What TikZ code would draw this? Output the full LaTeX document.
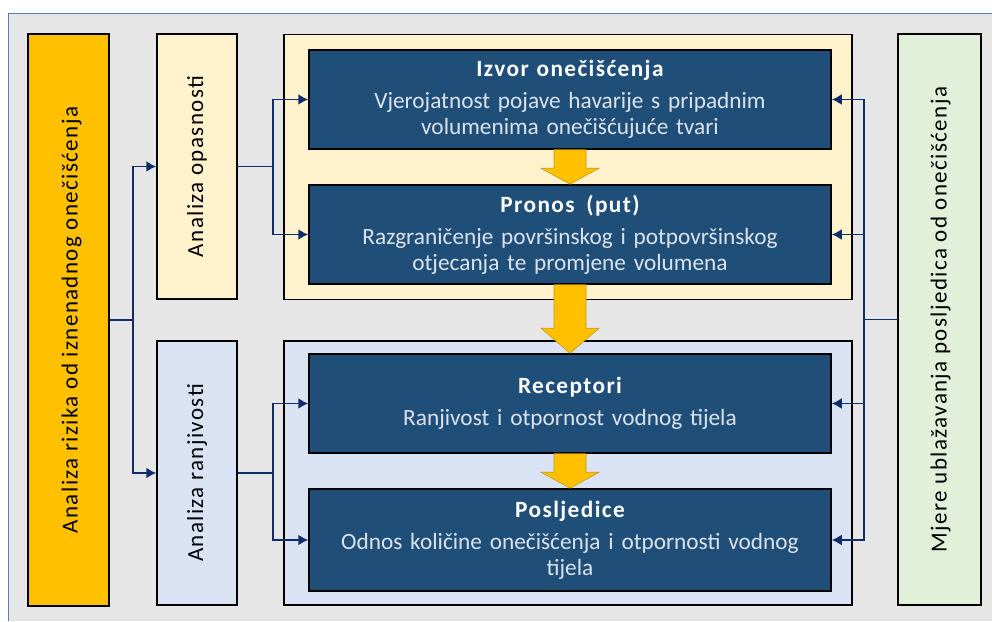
\documentclass[tikz,border=0pt]{standalone}
\usepackage{fontspec}
\setmainfont{Carlito}
\newfontfamily\razmak{Carlito}[LetterSpace=6]
\usetikzlibrary{arrows.meta,calc}
\definecolor{pozadina}{HTML}{E6E6E6}
\definecolor{okvir}{HTML}{5B7DB1}
\definecolor{narancasta}{HTML}{FFC000}
\definecolor{krem}{HTML}{FFF2CC}
\definecolor{svijetloplava}{HTML}{DAE3F3}
\definecolor{zelena}{HTML}{E2F0D9}
\definecolor{tamnoplava}{HTML}{1F4E79}
\definecolor{veza}{HTML}{0F2D6B}
\definecolor{tekst}{HTML}{DCE3EC}
\definecolor{zlatna}{HTML}{FFC000}
\definecolor{zlatnorub}{HTML}{C99A10}
\newcommand{\dolje}[3]{%
  \filldraw[strelica] ($(#1.south)+(-16,0)$) -- ($(#2.north)+(-16,-#3)$)
    -- ($(#2.north)+(-29,-#3)$) -- (#2.north) -- ($(#2.north)+(29,-#3)$)
    -- ($(#2.north)+(16,-#3)$) -- ($(#1.south)+(16,0)$) -- cycle;}
\newcommand{\naslov}[1]{{\razmak\bfseries #1}\\[6pt]}

\begin{document}
\begin{tikzpicture}[
		x=1pt, y=-1pt,
		font=\fontsize{23.3}{26}\selectfont,
		stup/.style={draw=black,line width=1.5pt,inner sep=0pt},
		okvirbox/.style={draw=black,line width=1.5pt,minimum width=568pt,inner sep=0pt},
		kutija/.style={draw=black,fill=tamnoplava,line width=1.5pt,minimum width=522pt,
		text width=516pt,align=center,text=white,inner sep=0pt},
		natpis/.style={rotate=90,inner sep=0pt,font=\razmak\fontsize{23}{26}\selectfont},
		link/.style={draw=veza,line width=1.8pt},
		strelica/.style={fill=zlatna,draw=zlatnorub,line width=0.6pt},
		>={Latex[length=10pt,width=11pt]}
		]
		\useasboundingbox (0,0) rectangle (992,621);
		\fill[pozadina] (8,13) rectangle (992,621);
		\draw[okvir, line width=1pt] (8,621) -- (8,13) -- (992,13);
		% lijevo i desno
		\node[stup, fill=narancasta, minimum width=81pt, minimum height=572pt] (rizik) at (68.5,320) {};
		\node[natpis] (rizikt) at ([xshift=3pt]rizik.center) {Analiza rizika od iznenadnog onečišćenja};
		\node[stup, fill=zelena, minimum width=83pt, minimum height=571pt] (mjere) at (939.5,319.5) {};
		\node[natpis] (mjeret) at ([xshift=1pt]mjere.center) {Mjere ublažavanja posljedica od onečišćenja};
		% analize
		\node[stup, fill=krem, minimum width=80pt, minimum height=265pt] (opas) at (197,166.5) {};
		\node[natpis] (opast) at (opas.center) {Analiza opasnosti};
		\node[stup, fill=svijetloplava, minimum width=80pt, minimum height=264pt] (ranj) at (197,473) {};
		\node[natpis] (ranjt) at (ranj.center) {Analiza ranjivosti};
		% okviri
		\node[okvirbox, fill=krem, minimum height=265pt] (gore) at (568,167) {};
		\node[okvirbox, fill=svijetloplava, minimum height=264pt] (dolje) at (568,473) {};
		% kutije
		\node[kutija, minimum height=99pt] (izvor) at (570,99.5)
			{\naslov{Izvor onečišćenja} \color{tekst}Vjerojatnost pojave havarije s pripadnim\\ volumenima onečišćujuće tvari};
		\node[kutija, minimum height=99pt] (pronos) at (570,234.5)
			{\naslov{Pronos\enspace(put)} \color{tekst}Razgraničenje površinskog i potpovršinskog\\ otjecanja te promjene volumena};
		\node[kutija, minimum height=99pt] (recep) at (570,403.5)
			{\naslov{Receptori} \color{tekst}Ranjivost i otpornost vodnog tijela};
		\node[kutija, minimum height=102pt] (posl) at (570,540)
			{\naslov{Posljedice} \color{tekst}Odnos količine onečišćenja i otpornosti vodnog\\ tijela};
		% veze
		\draw[link] (rizik.east) -- (133,320) coordinate (r1);
		\draw[link,->] (r1) |- (opas.west);
		\draw[link,->] (r1) |- (ranj.west);
		\draw[link] (opas.east) -- (273,166.5) coordinate (o1);
		\draw[link,->] (o1) |- (izvor.west);
		\draw[link,->] (o1) |- (pronos.west);
		\draw[link] (ranj.east) -- (273,473) coordinate (n1);
		\draw[link,->] (n1) |- (recep.west);
		\draw[link,->] (n1) |- (posl.west);
		\draw[link] (mjere.west) -- (864,319.5) coordinate (m1);
		\draw[link,->] (m1) |- (izvor.east);
		\draw[link,->] (m1) |- (pronos.east);
		\draw[link,->] (m1) |- (recep.east);
		\draw[link,->] (m1) |- (posl.east);
		% zute strelice
		\dolje{izvor}{pronos}{16}
		\dolje{pronos}{recep}{25}
		\dolje{recep}{posl}{16}
	\end{tikzpicture}
\end{document}
